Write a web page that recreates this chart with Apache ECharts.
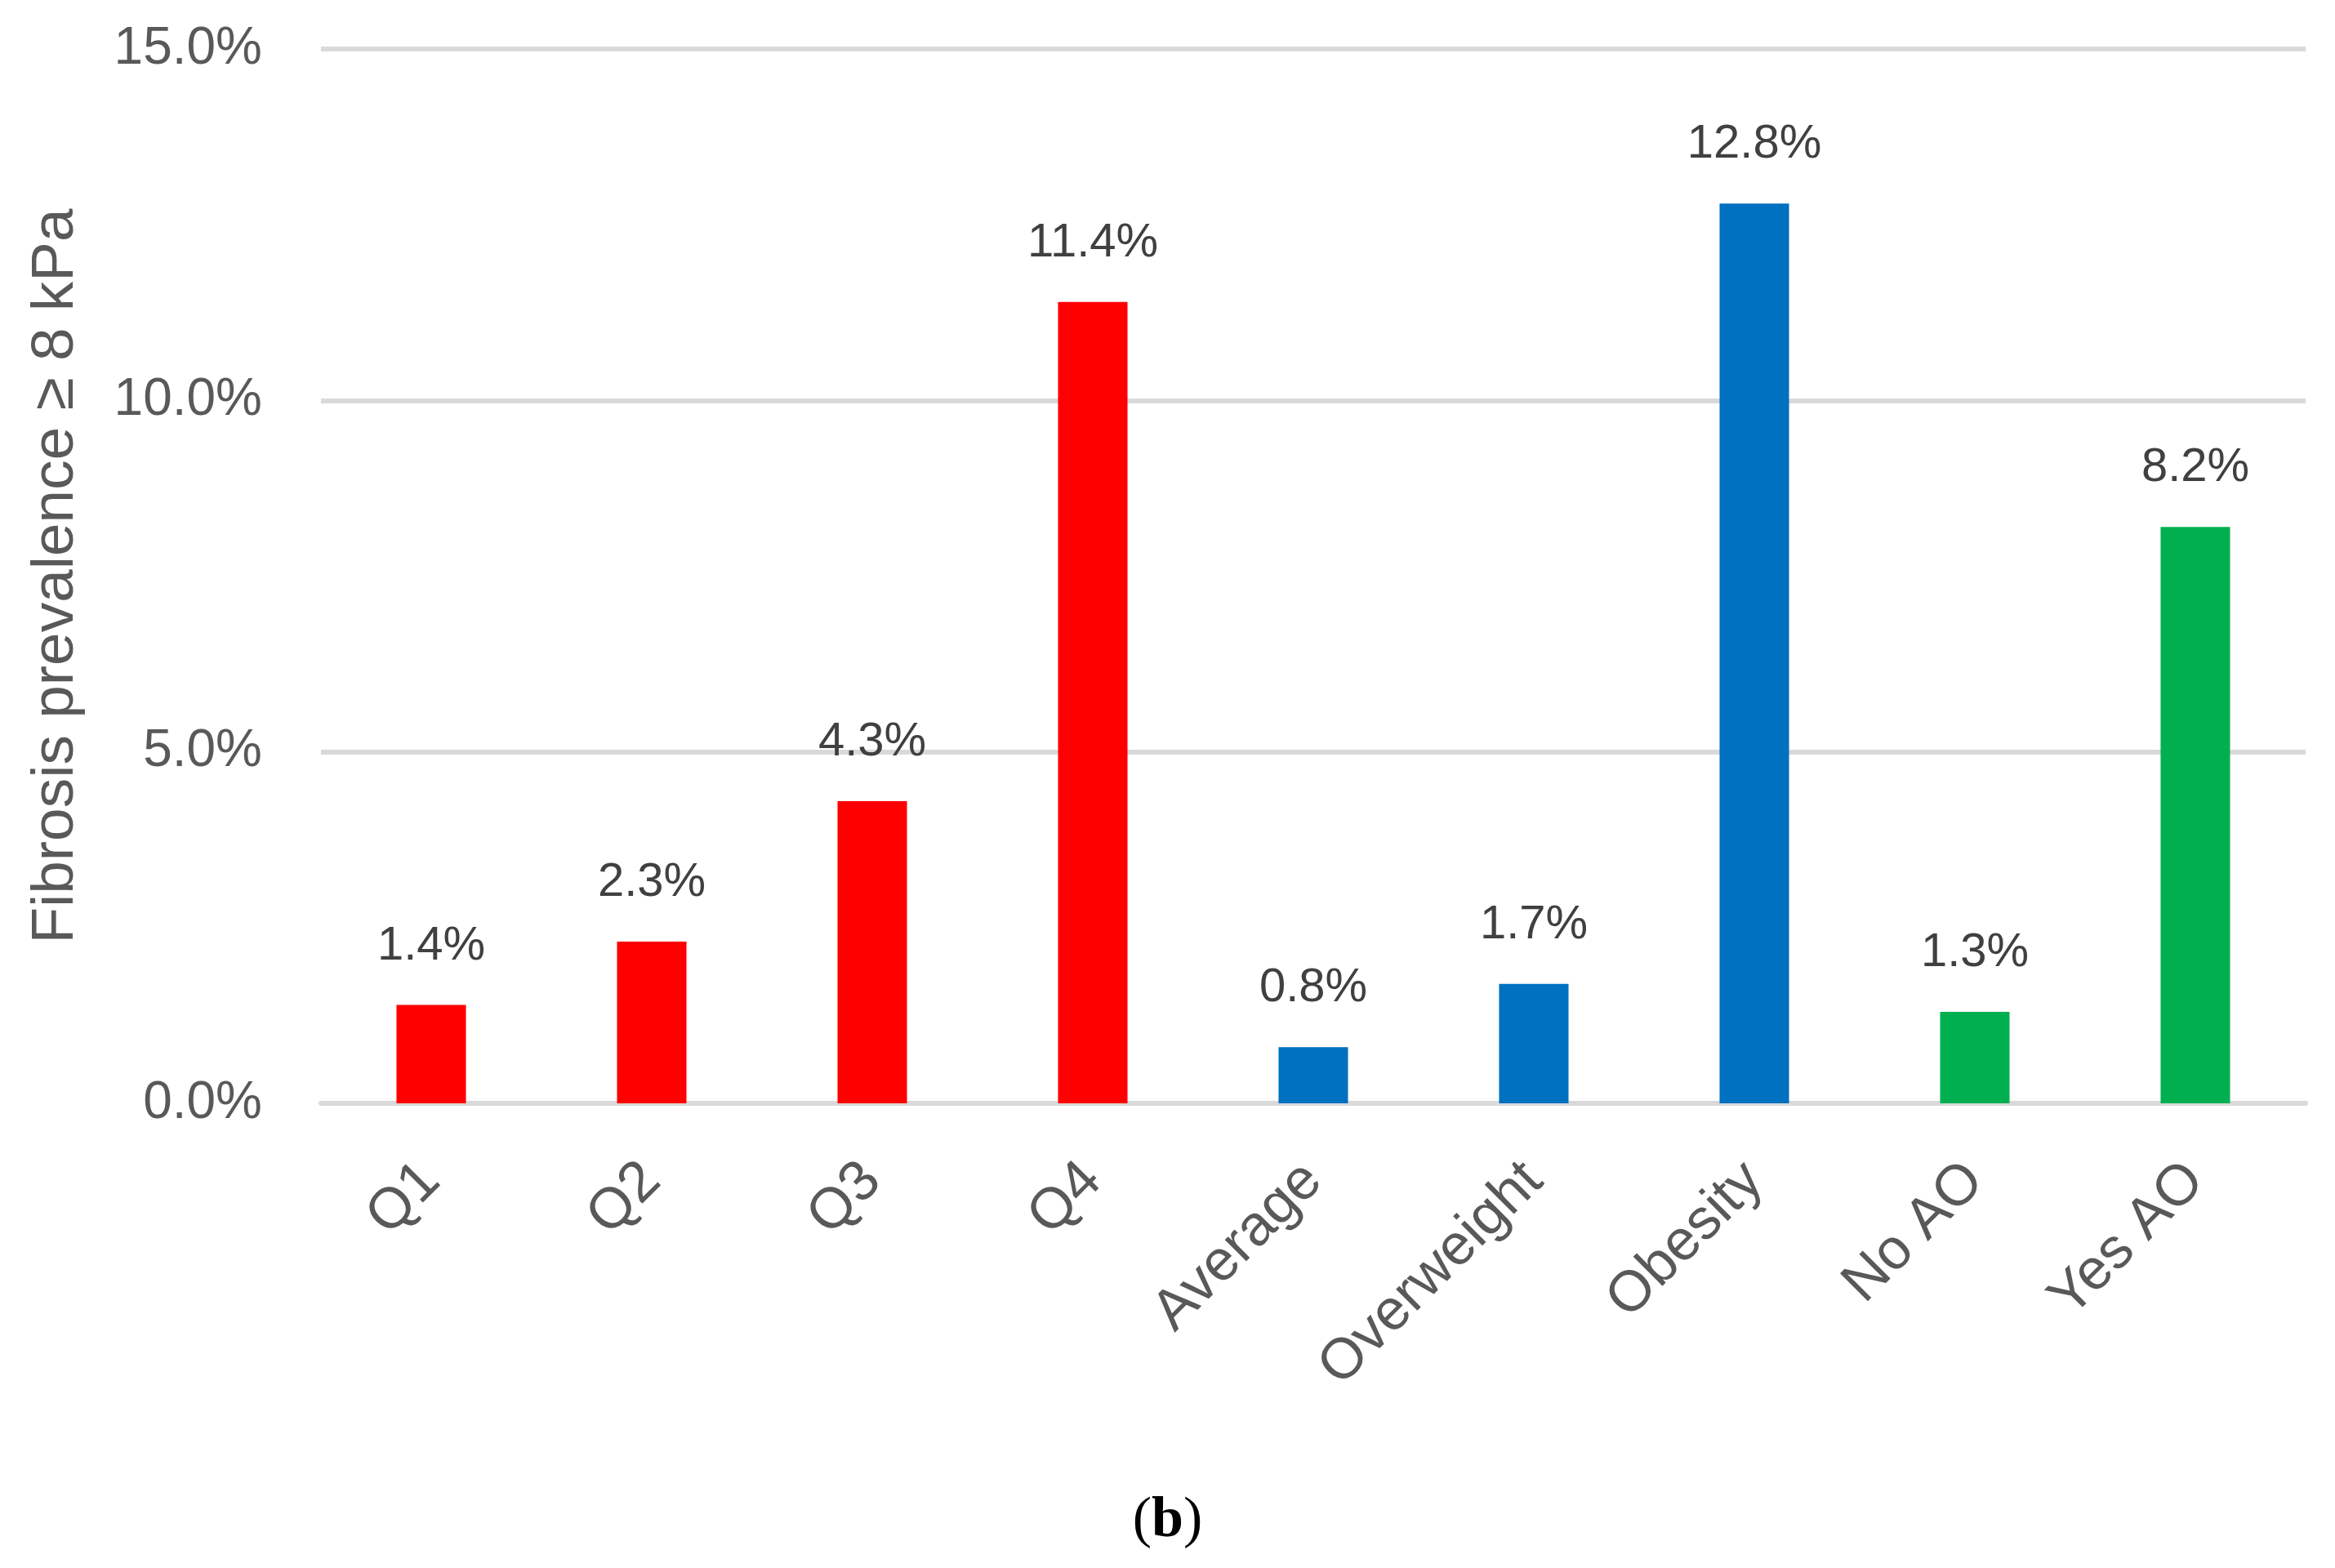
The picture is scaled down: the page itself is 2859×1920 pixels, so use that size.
<!DOCTYPE html>
<html>
<head>
<meta charset="utf-8">
<script src="https://cdn.jsdelivr.net/npm/echarts@6/dist/echarts.min.js"></script>
<style>
html,body{margin:0;padding:0;background:#fff;}
#chart{width:2859px;height:1920px;}
</style>
</head>
<body>
<div id="chart"></div>
<script>
const categories = ['Q1','Q2','Q3','Q4','Average','Overweight','Obesity','No AO','Yes AO'];
const prevalence = [1.4, 2.3, 4.3, 11.4, 0.8, 1.7, 12.8, 1.3, 8.2];
const barColors = ['#FF0000','#FF0000','#FF0000','#FF0000','#0070C0','#0070C0','#0070C0','#00B050','#00B050'];
const yTicks = [0, 5, 10, 15];
const yTitle = 'Fibrosis prevalence \u2265 8 kPa';
const caption = 'b';

const FONT = 'Liberation Sans';
const chart = echarts.init(document.getElementById('chart'), null, {renderer:'canvas'});
chart.setOption({
  animation:false,
  backgroundColor:'#ffffff',
  grid:{left:393, right:36, top:60, bottom:569, containLabel:false},
  xAxis:{
    type:'category',
    data:categories,
    axisLine:{show:true, lineStyle:{color:'#D9D9D9', width:6}},
    axisTick:{show:false},
    axisLabel:{rotate:45, margin:84, color:'#595959', fontFamily:FONT, fontSize:70, interval:0}
  },
  yAxis:{
    type:'value',
    min:yTicks[0], max:yTicks[yTicks.length-1], interval:5,
    name:yTitle,
    nameLocation:'middle',
    nameGap:288,
    nameTextStyle:{color:'#595959', fontFamily:FONT, fontSize:73},
    axisLine:{show:false},
    axisTick:{show:false},
    axisLabel:{margin:72, color:'#595959', fontFamily:FONT, fontSize:64, formatter:v=>v.toFixed(1)+'%'},
    splitLine:{lineStyle:{color:'#D9D9D9', width:6}}
  },
  series:[{
    type:'bar',
    data:prevalence.map((v,i)=>({value:v, itemStyle:{color:barColors[i]}})),
    barWidth:'31.5%',
    label:{show:true, position:'top', distance:43, color:'#404040', fontFamily:FONT, fontSize:58, formatter:p=>p.value.toFixed(1)+'%'}
  }],
  graphic:[{
    type:'text',
    left:'center', top:1828,
    style:{
      text:'({b|'+caption+'})',
      font:'70px "Liberation Serif"',
      fill:'#000',
      rich:{b:{fontFamily:'Liberation Serif', fontWeight:'bold', fontSize:70, fill:'#000'}}
    }
  }]
});
</script>
</body>
</html>
